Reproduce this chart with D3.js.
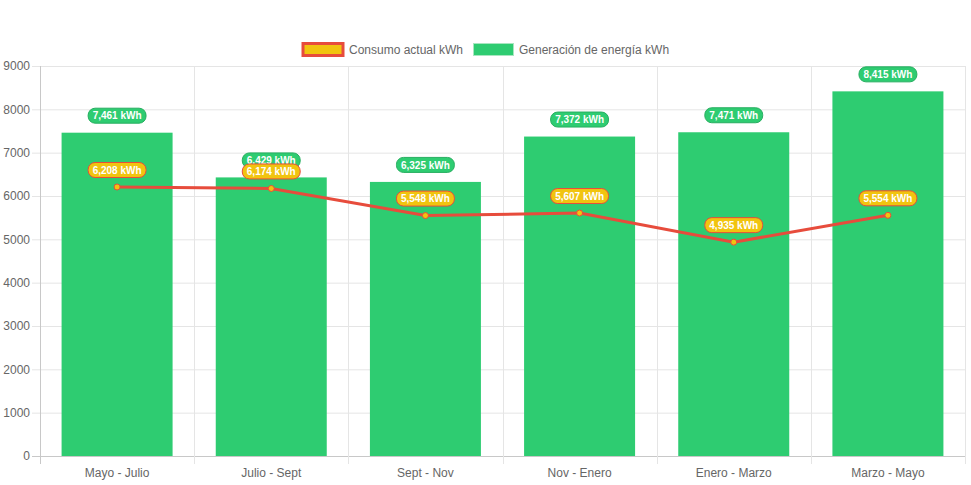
<!DOCTYPE html>
<html>
<head>
<meta charset="utf-8">
<script src="https://cdn.jsdelivr.net/npm/d3@7"></script>
<style>
  body { margin: 0; background: #fff; }
  text { font-family: "Liberation Sans", Arial, sans-serif; }
</style>
</head>
<body>
<div id="grafico"></div>
<script>
// Datos del grafico
const periodos = ["Mayo - Julio", "Julio - Sept", "Sept - Nov", "Nov - Enero", "Enero - Marzo", "Marzo - Mayo"]
const consumo = [6208, 6174, 5548, 5607, 4935, 5554]
const generacion = [7461, 6429, 6325, 7372, 7471, 8415]
const ticksY = [0, 1000, 2000, 3000, 4000, 5000, 6000, 7000, 8000, 9000]

const anchoTotal = 971
const altoTotal = 485
const margins = { top: 66, right: 6, bottom: 29, left: 40 }
const ancho = anchoTotal - margins.left - margins.right
const alto = altoTotal - margins.top - margins.bottom

const svg = d3.select("#grafico")
  .append("svg")
  .attr("width", anchoTotal)
  .attr("height", altoTotal)

const g = svg.append("g")
  .attr("transform", `translate(${margins.left}, ${margins.top})`)

// Escaladores
const x = d3.scaleBand().domain(periodos).range([0, ancho])
const y = d3.scaleLinear().domain([0, 9000]).range([alto, 0])
const anchoBarra = x.bandwidth() * 0.72

// Grilla horizontal
g.append("g")
  .selectAll("line")
  .data(ticksY)
  .join("line")
  .attr("x1", -8)
  .attr("x2", ancho)
  .attr("y1", (d) => y(d) + 0.5)
  .attr("y2", (d) => y(d) + 0.5)
  .attr("stroke", (d) => d === 0 ? "#c8c8c8" : "#e5e5e5")

// Grilla vertical
const lineasX = d3.range(periodos.length + 1).map((i) => i * x.step())
g.append("g")
  .selectAll("line")
  .data(lineasX)
  .join("line")
  .attr("x1", (d) => Math.round(d) + 0.5)
  .attr("x2", (d) => Math.round(d) + 0.5)
  .attr("y1", 0)
  .attr("y2", alto + 8)
  .attr("stroke", (d, i) => i === 0 ? "#c8c8c8" : "#e5e5e5")

// Etiquetas eje Y
g.append("g")
  .selectAll("text")
  .data(ticksY)
  .join("text")
  .attr("x", -10)
  .attr("y", (d) => y(d))
  .attr("dy", "0.35em")
  .attr("text-anchor", "end")
  .attr("font-size", 12)
  .attr("fill", "#666")
  .text((d) => d)

// Etiquetas eje X
g.append("g")
  .selectAll("text")
  .data(periodos)
  .join("text")
  .attr("x", (d) => x(d) + x.bandwidth() / 2)
  .attr("y", alto + 17)
  .attr("dy", "0.35em")
  .attr("text-anchor", "middle")
  .attr("font-size", 12)
  .attr("fill", "#666")
  .text((d) => d)

// Barras de generacion
g.append("g")
  .selectAll("rect")
  .data(generacion)
  .join("rect")
  .attr("x", (d, i) => x(periodos[i]) + (x.bandwidth() - anchoBarra) / 2)
  .attr("y", (d) => y(d))
  .attr("width", anchoBarra)
  .attr("height", (d) => alto - y(d))
  .attr("fill", "#2ecc71")

// Linea de consumo
const linea = d3.line()
  .x((d, i) => x(periodos[i]) + x.bandwidth() / 2)
  .y((d) => y(d))

g.append("path")
  .datum(consumo)
  .attr("d", linea)
  .attr("fill", "none")
  .attr("stroke", "#e74c3c")
  .attr("stroke-width", 3)

g.append("g")
  .selectAll("circle")
  .data(consumo)
  .join("circle")
  .attr("cx", (d, i) => x(periodos[i]) + x.bandwidth() / 2)
  .attr("cy", (d) => y(d))
  .attr("r", 3)
  .attr("fill", "#f1c40f")
  .attr("stroke", "#e74c3c")
  .attr("stroke-width", 1)

// Etiquetas de valores
const formato = d3.format(",")
const etiquetas = (datos, fondo, borde) => {
  const grupo = g.append("g")
    .selectAll("g")
    .data(datos)
    .join("g")
    .attr("transform", (d, i) =>
      `translate(${x(periodos[i]) + x.bandwidth() / 2}, ${y(d) - 17})`)
  const txt = grupo.append("text")
    .attr("text-anchor", "middle")
    .attr("dy", "0.36em")
    .attr("font-size", 10)
    .attr("font-weight", "bold")
    .attr("fill", "#fff")
    .text((d) => `${formato(d)} kWh`)
  grupo.insert("rect", "text")
    .each(function () {
      const w = this.parentNode.querySelector("text").getComputedTextLength() + 9
      d3.select(this)
        .attr("x", -w / 2)
        .attr("y", -7.5)
        .attr("width", w)
        .attr("height", 15)
    })
    .attr("rx", 7)
    .attr("fill", fondo)
    .attr("stroke", borde)
    .attr("stroke-width", 1)
}
etiquetas(generacion, "#2ecc71", "#27ae60")
etiquetas(consumo, "#f1c40f", "#e74c3c")

// Leyenda
const leyenda = svg.append("g").attr("font-size", 12).attr("fill", "#666")
leyenda.append("rect")
  .attr("x", 303).attr("y", 43.5).attr("width", 40).attr("height", 12)
  .attr("fill", "#f1c40f").attr("stroke", "#e74c3c").attr("stroke-width", 3)
leyenda.append("text").attr("x", 349).attr("y", 50).attr("dy", "0.35em")
  .text("Consumo actual kWh")
leyenda.append("rect")
  .attr("x", 473.5).attr("y", 43.5).attr("width", 40).attr("height", 12)
  .attr("fill", "#2ecc71").attr("stroke", "#a8e6c0").attr("stroke-width", 1)
leyenda.append("text").attr("x", 519).attr("y", 50).attr("dy", "0.35em")
  .text("Generación de energía kWh")
</script>
</body>
</html>
